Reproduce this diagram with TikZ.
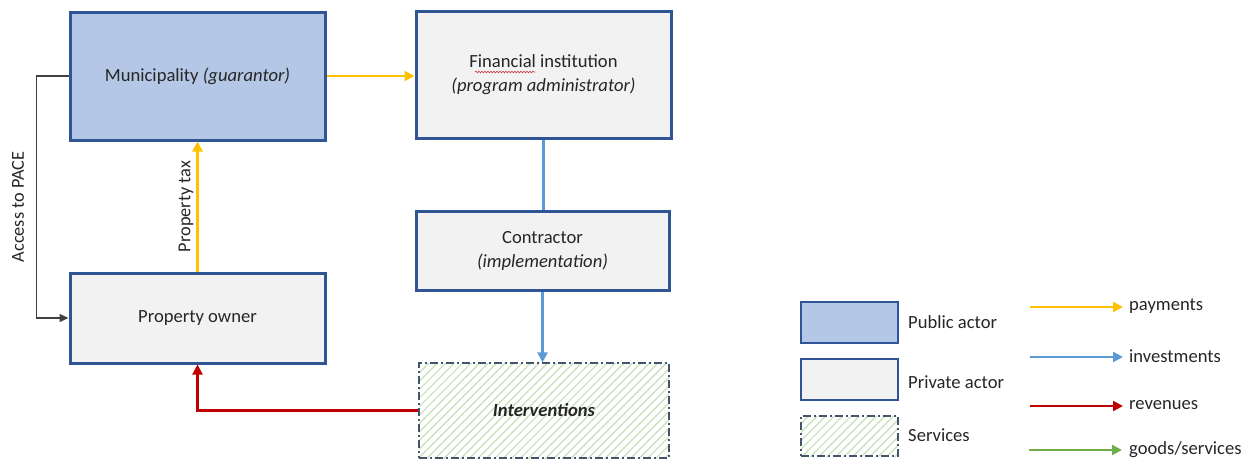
\documentclass[tikz,border=0pt]{standalone}
\usepackage{fontspec}
\setmainfont{Carlito}
\usetikzlibrary{arrows.meta,patterns.meta,decorations.pathmorphing}
\definecolor{boxline}{HTML}{2F5597}
\definecolor{pubfill}{HTML}{B4C7E7}
\definecolor{privfill}{HTML}{F2F2F2}
\definecolor{paycol}{HTML}{FFC000}
\definecolor{invcol}{HTML}{5B9BD5}
\definecolor{revcol}{HTML}{C00000}
\definecolor{goodcol}{HTML}{70AD47}
\definecolor{hatchcol}{HTML}{C5E0B4}
\definecolor{servline}{HTML}{44546A}
\definecolor{txt}{HTML}{262626}
\begin{document}
\begin{tikzpicture}[x=1pt,y=-1pt,
  every node/.style={text=txt,font=\fontsize{18.6}{23}\selectfont},
  actor/.style={draw=boxline,line width=3pt,minimum width=#1,align=center,inner sep=0pt},
  public/.style={actor=255pt,fill=pubfill},
  private/.style={actor=255pt,fill=privfill},
  services/.style={draw=servline,line width=1.5pt,fill=white,
    pattern={Lines[angle=45,distance=6pt,line width=1.2pt]},pattern color=hatchcol,
    dash pattern=on 8pt off 3pt on 2pt off 3pt,align=center,inner sep=0pt},
  flow/.style={line width=2.2pt,-{Triangle[length=10pt,width=10pt]}},
  pay/.style={flow,draw=paycol},
  inv/.style={flow,draw=invcol},
  rev/.style={flow,draw=revcol},
  good/.style={flow,draw=goodcol},
  legtext/.style={anchor=west,inner sep=0pt}
]
\useasboundingbox (0,0) rectangle (1255,461);

% actors
\node[public,minimum height=128pt] (mun) at (197.5,76) {Municipality \textit{(guarantor)}};
\node[private,minimum height=127pt] (fin) at (543.5,74.5) {Financial institution\\[1pt]\textit{(program administrator)}};
\node[private,minimum width=253pt,minimum height=79pt] (con) at (542.5,250.5) {Contractor\\[1pt]\textit{(implementation)}};
\node[private,minimum height=90pt] (own) at (197.5,318) {Property owner};
\node[services,minimum width=250pt,minimum height=95pt] (int) at (544,410.5) {\textbf{\textit{Interventions}}};

% spell-check squiggle under "Financial"
\coordinate (sqa) at (475,72);
\coordinate (sqb) at (535,72);
\draw[revcol!80,line width=0.6pt,decorate,decoration={snake,amplitude=0.8pt,segment length=3pt}] (sqa) -- (sqb);

% flows
\draw[pay] (mun.east) -- (mun.east -| fin.west);
\draw[pay] (own.north) -- node[midway,above,sloped,inner sep=3pt,font=\fontsize{18.3}{22}\selectfont] (taxlbl) {Property tax} (mun.south);
\draw[inv,-] (fin.south) -- (fin.south |- con.north);
\draw[inv] (con.south) -- (con.south |- int.north);
\draw[rev] (int.west) -| (own.south);
\draw[line width=1.4pt,draw=black!75,-{Triangle[length=9pt,width=8pt]}] (mun.west) -- ++(-32,0) |- (own.west);
\node[rotate=90,font=\fontsize{18.3}{22}\selectfont] (pace) at (18,207) {Access to PACE};

% legend: actor types
\node[draw=boxline,line width=2.6pt,fill=pubfill,minimum width=97pt,minimum height=41pt,inner sep=0pt] (lpub) at (849.5,322.5) {};
\node[draw=boxline,line width=2.6pt,fill=privfill,minimum width=97pt,minimum height=41pt,inner sep=0pt] (lpri) at (849.5,379.5) {};
\node[services,minimum width=97pt,minimum height=40pt] (lser) at (849.5,436) {};
\node[legtext] (tpub) at (908,322) {Public actor};
\node[legtext] (tpri) at (908,382) {Private actor};
\node[legtext] (tser) at (908,435) {Services};

% legend: flow types
\node[legtext] (tpay) at (1129,306) {payments};
\node[legtext] (tinv) at (1129,356) {investments};
\node[legtext] (trev) at (1129,405) {revenues};
\node[legtext] (tgood) at (1129,450) {goods/services};
\coordinate (pays) at (1030,307);  \coordinate (paye) at (1123,307);
\coordinate (invs) at (1030,357);  \coordinate (inve) at (1123,357);
\coordinate (revs) at (1030,406);  \coordinate (reve) at (1123,406);
\coordinate (goods) at (1029,450); \coordinate (gooe) at (1122,450);
\draw[pay] (pays) -- (paye);
\draw[inv] (invs) -- (inve);
\draw[rev] (revs) -- (reve);
\draw[good] (goods) -- (gooe);
\end{tikzpicture}
\end{document}
